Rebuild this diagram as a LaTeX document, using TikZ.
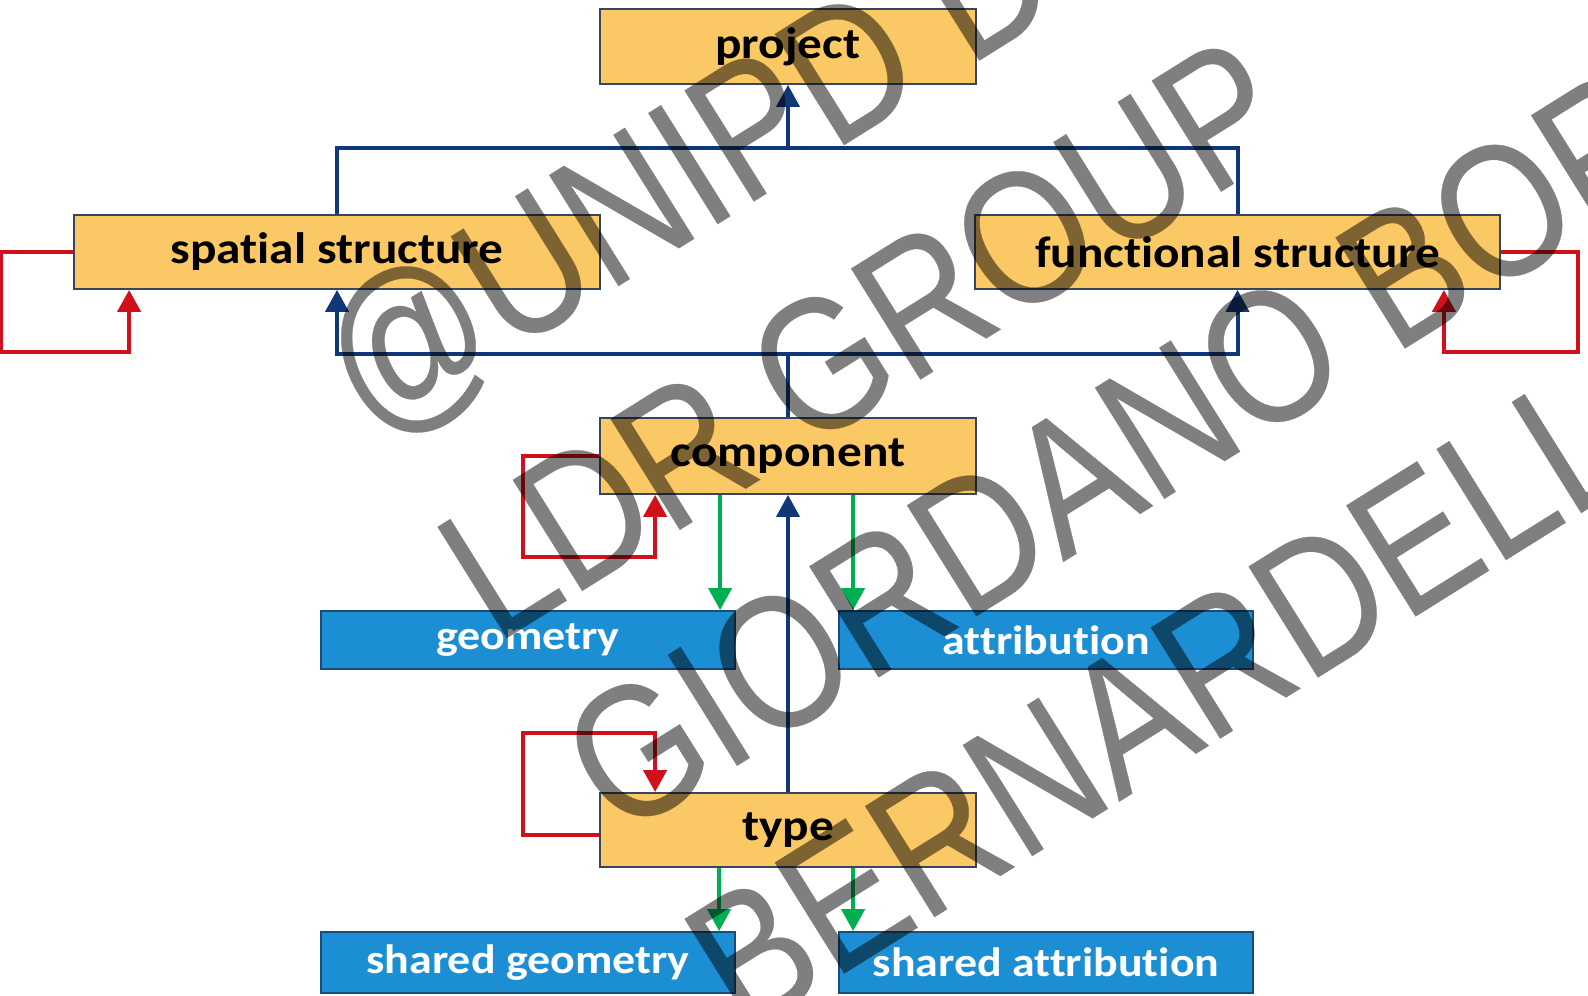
\documentclass[tikz,border=0pt]{standalone}
\usepackage{fontspec}
\setmainfont{Carlito}
\newfontfamily\boxfont[FakeStretch=1.12,Ligatures=NoCommon]{Carlito}
\newfontfamily\wmfont[FakeStretch=0.84,FakeBold=0.15]{Liberation Sans}
\usetikzlibrary{arrows.meta}
\definecolor{obfill}{RGB}{250,200,100}
\definecolor{obdraw}{RGB}{55,70,95}
\definecolor{bbfill}{RGB}{28,143,212}
\definecolor{bbdraw}{RGB}{25,75,125}
\definecolor{navyc}{RGB}{16,56,120}
\definecolor{redc}{RGB}{208,16,26}
\definecolor{greenc}{RGB}{0,176,80}
\tikzset{
  obox/.style={rectangle, fill=obfill, draw=obdraw, line width=0.9pt, inner sep=0pt,
    font=\boxfont\bfseries\fontsize{22pt}{24pt}\selectfont, text=black},
  bbox/.style={rectangle, fill=bbfill, draw=bbdraw, line width=0.9pt, inner sep=0pt,
    font=\boxfont\bfseries\fontsize{20.5pt}{22pt}\selectfont, text=white},
  tip/.style={-{Triangle[length=11pt,width=11.5pt]}},
  nv/.style={draw=navyc, line width=2pt},
  rd/.style={draw=redc, line width=2.2pt, tip},
  gr/.style={draw=greenc, line width=2pt, tip},
  wm/.style={rotate=32, anchor=base west, inner sep=0pt, text=black,
    font=\wmfont\fontsize{95pt}{95pt}\selectfont}
}
\begin{document}
\begin{tikzpicture}[x=0.5pt,y=-0.5pt]
\useasboundingbox (0,0) rectangle (1588,995);
\fill[white] (0,0) rectangle (1588,995);

% boxes
\node[obox, minimum width=188pt, minimum height=37.5pt] (project) at (788,46.5) {project};
\node[obox, minimum width=263pt, minimum height=37pt] (spatial) at (337,252) {spatial structure};
\node[obox, minimum width=262.5pt, minimum height=37pt] (functional) at (1237.5,252) {functional structure};
\node[obox, minimum width=188pt, minimum height=38pt] (component) at (788,456) {component};
\node[obox, minimum width=188pt, minimum height=37pt] (type) at (788,830) {type};
\node[bbox, minimum width=207pt, minimum height=29pt] (geometry) at (528,640) {\raisebox{-2pt}{geometry}};
\node[bbox, minimum width=207pt, minimum height=29pt] (attribution) at (1046,640) {\raisebox{-2pt}{attribution}};
\node[bbox, minimum width=207pt, minimum height=30.5pt] (sgeometry) at (528,962.5) {shared geometry};
\node[bbox, minimum width=207pt, minimum height=30.5pt] (sattribution) at (1046,962.5) {shared attribution};

% blue connectors
\coordinate (topbar) at (788,148);
\coordinate (botbar) at (788,354);
\draw[nv] (spatial.north) |- (topbar) -| (functional.north);
\draw[nv, tip] (topbar) -- (project.south);
\draw[nv] (component.north) -- (botbar);
\draw[nv, tip] (botbar) -| (spatial.south);
\draw[nv, tip] (botbar) -| (functional.south);
\draw[nv, tip] (type.north) -- (component.south);

% red self loops
\draw[rd] (spatial.west) -- ++(-72,0) -- ++(0,100) -| ([xshift=28pt]spatial.south west);
\draw[rd] (functional.east) -- ++(77,0) -- ++(0,100) -| ([xshift=-28.5pt]functional.south east);
\draw[rd] (component.west) -- ++(-76,0) -- ++(0,101) -| ([xshift=28pt]component.south west);
\draw[rd] ([yshift=-2.5pt]type.west) -- ++(-76,0) -- ++(0,-102) -| ([xshift=28pt]type.north west);

% green connectors
\draw[gr] ([xshift=60.5pt]component.south west) -- ([xshift=60.5pt]component.south west |- geometry.north);
\draw[gr] ([xshift=127pt]component.south west) -- ([xshift=127pt]component.south west |- attribution.north);
\draw[gr] ([xshift=60pt]type.south west) -- ([xshift=60pt]type.south west |- sgeometry.north);
\draw[gr] ([xshift=127pt]type.south west) -- ([xshift=127pt]type.south west |- sattribution.north);

% watermark
\begin{scope}[transparency group, opacity=0.5]
\clip (0,0) rectangle (1588,995);
\node[wm] (wm1) at (372,440) {@UNIPD DI};
\node[wm] (wm2) at (495.5,645) {LDR GROUP};
\node[wm] (wm3) at (619,839.5) {GIORDANO BOR};
\node[wm] (wm4) at (742.5,1037) {BERNARDELLO};
\end{scope}
\end{tikzpicture}
\end{document}
